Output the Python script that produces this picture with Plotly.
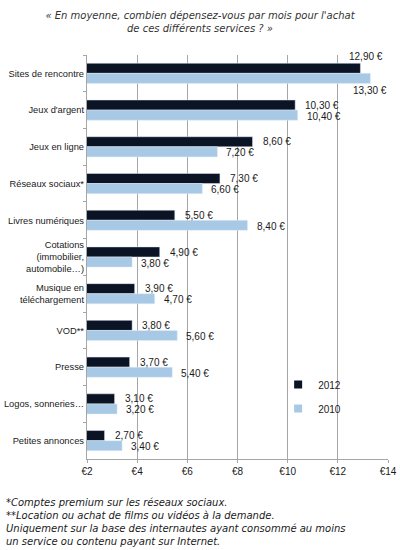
import plotly.graph_objects as go

# categories, top to bottom
categories = [
    "Sites de rencontre",
    "Jeux d'argent",
    "Jeux en ligne",
    "Réseaux sociaux*",
    "Livres numériques",
    "Cotations<br>(immobilier,<br>automobile…)",
    "Musique en<br>téléchargement",
    "VOD**",
    "Presse",
    "Logos, sonneries…",
    "Petites annonces",
]
values_2012 = [12.9, 10.3, 8.6, 7.3, 5.5, 4.9, 3.9, 3.8, 3.7, 3.1, 2.7]
values_2010 = [13.3, 10.4, 7.2, 6.6, 8.4, 3.8, 4.7, 5.6, 5.4, 3.2, 3.4]
x_ticks = [2, 4, 6, 8, 10, 12, 14]
x_tick_labels = ["€2", "€4", "€6", "€8", "€10", "€12", "€14"]

color_2012 = "#0b1425"
color_2010 = "#a7c9e6"
grid_color = "#a6a6a6"
txt_color = "#1a1a1a"
font_family = "Liberation Sans, Arial, sans-serif"
note_family = "DejaVu Sans, Verdana, sans-serif"


def euro(v):
    return f"{v:.2f}".replace(".", ",") + " €"


fig = go.Figure()
fig.add_trace(go.Bar(y=categories, x=values_2012, orientation="h", name="2012",
                     marker_color=color_2012, showlegend=False))
fig.add_trace(go.Bar(y=categories, x=values_2010, orientation="h", name="2010",
                     marker_color=color_2010, showlegend=False))

# legend entries with small square markers
for name, col in [("2012", color_2012), ("2010", color_2010)]:
    fig.add_trace(go.Scatter(x=[None], y=[None], mode="markers", name=name,
                             legendgroup=name,
                             marker=dict(symbol="square", size=8, color=col)))

# value labels
annotations = []
for cat, v12, v10 in zip(categories, values_2012, values_2010):
    if v10 > 13:
        # too close to the right edge: put labels above / below the bars
        annotations.append(dict(x=v12, y=cat, text=euro(v12), showarrow=False,
                                xanchor="center", yanchor="bottom", yshift=9, xshift=6))
        annotations.append(dict(x=v10, y=cat, text=euro(v10), showarrow=False,
                                xanchor="center", yanchor="top", yshift=-10, xshift=0))
    else:
        annotations.append(dict(x=v12, y=cat, text=euro(v12), showarrow=False,
                                xanchor="left", yshift=5, xshift=8))
        annotations.append(dict(x=v10, y=cat, text=euro(v10), showarrow=False,
                                xanchor="left", yshift=-6, xshift=7))
for a in annotations:
    a["font"] = dict(size=10, color=txt_color, family=font_family)

annotations.append(dict(
    xref="paper", yref="paper", x=-0.276, y=-0.088, xanchor="left", yanchor="top",
    align="left", showarrow=False,
    text="<i>*Comptes premium sur les réseaux sociaux.<br>"
         "**Location ou achat de films ou vidéos à la demande.<br>"
         "Uniquement sur la base des internautes ayant consommé au moins<br>"
         "un service ou contenu payant sur Internet.</i>",
    font=dict(size=10, color=txt_color, family=note_family),
))

fig.update_layout(
    width=400, height=550,
    margin=dict(l=87, r=12, t=55, b=91),
    paper_bgcolor="white", plot_bgcolor="white",
    font=dict(family=font_family, size=10, color=txt_color),
    barmode="group", bargap=0.45, bargroupgap=0,
    title=dict(
        text="<i>« En moyenne, combien dépensez-vous par mois pour l'achat<br>"
             "de ces différents services ? »</i>",
        x=0.5, xref="container", xanchor="center",
        y=0.965, yanchor="top", automargin=False,
        font=dict(size=10, color="#333333", family=note_family),
    ),
    legend=dict(x=0.635, y=0.22, xanchor="left", yanchor="top",
                tracegroupgap=5, bgcolor="rgba(0,0,0,0)",
                font=dict(size=10, color=txt_color), itemwidth=30),
    annotations=annotations,
    xaxis=dict(range=[2, 14], tickmode="array", tickvals=x_ticks, ticktext=x_tick_labels,
               showgrid=True, gridcolor=grid_color, gridwidth=1.3,
               showline=True, linecolor=grid_color, linewidth=1.3,
               ticks="outside", ticklen=3, tickcolor=grid_color,
               zeroline=False, fixedrange=True, automargin=False),
    yaxis=dict(categoryorder="array", categoryarray=categories,
               range=[len(categories) - 0.5, -0.5], automargin=False,
               tickfont=dict(size=9.3, color=txt_color, family=font_family),
               showline=True, linecolor=grid_color, linewidth=1.3,
               ticks="outside", ticklen=3, tickcolor=grid_color,
               tickson="boundaries", showgrid=False, fixedrange=True),
)

# drop the browser's default page margin so the figure sits at the window corner
fig.write_html("out.html", config={"displayModeBar": False},
               post_script="document.body.style.margin = '0';")
